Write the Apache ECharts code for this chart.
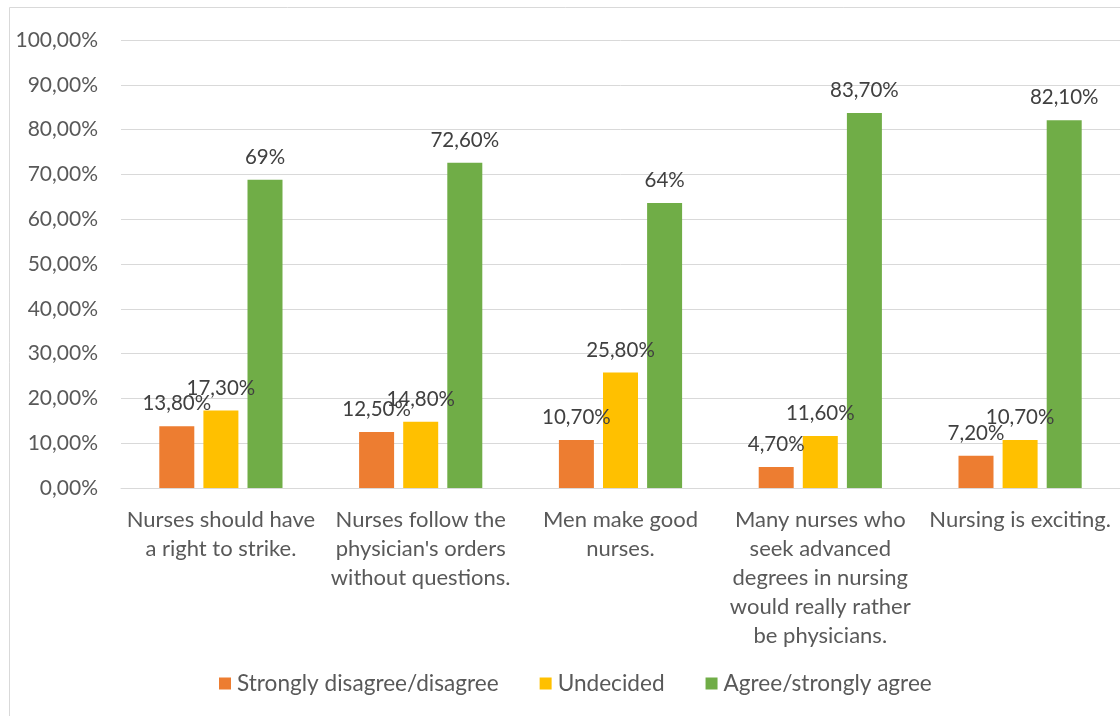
<!DOCTYPE html>
<html>
<head>
<meta charset="utf-8">
<script src="https://cdn.jsdelivr.net/npm/echarts@6/dist/echarts.min.js"></script>
<style>
html,body{margin:0;padding:0;background:#fff;}
#chart{width:1120px;height:716px;}
</style>
</head>
<body>
<div id="chart"></div>
<script>
const categories = [
  "Nurses should have\na right to strike.",
  "Nurses follow the\nphysician's orders\nwithout questions.",
  "Men make good\nnurses.",
  "Many nurses who\nseek advanced\ndegrees in nursing\nwould really rather\nbe physicians.",
  "Nursing is exciting."
];
const seriesNames = ["Strongly disagree/disagree", "Undecided", "Agree/strongly agree"];
const disagreeValues = [13.8, 12.5, 10.7, 4.7, 7.2];
const undecidedValues = [17.3, 14.8, 25.8, 11.6, 10.7];
const agreeValues = [68.8, 72.6, 63.6, 83.7, 82.1];
const disagreeLabels = ["13,80%", "12,50%", "10,70%", "4,70%", "7,20%"];
const undecidedLabels = ["17,30%", "14,80%", "25,80%", "11,60%", "10,70%"];
const agreeLabels = ["69%", "72,60%", "64%", "83,70%", "82,10%"];
const yTicks = [0, 10, 20, 30, 40, 50, 60, 70, 80, 90, 100];
const colors = ["#ED7D31", "#FFC000", "#70AD47"];

const FONT = "Lato";
const chart = echarts.init(document.getElementById('chart'), null, {renderer: 'canvas'});

function mkSeries(i, values, labels) {
  return {
    name: seriesNames[i],
    type: 'bar',
    data: values,
    barWidth: 35,
    barGap: '26%',
    itemStyle: {color: colors[i]},
    label: {
      show: true,
      position: 'top',
      distance: 12,
      color: '#404040',
      fontFamily: FONT,
      fontSize: 20.5,
      formatter: p => labels[p.dataIndex]
    }
  };
}

chart.setOption({
  animation: false,
  backgroundColor: '#ffffff',
  graphic: [{
    type: 'rect',
    shape: {x: 9.5, y: 7.5, width: 1200, height: 800},
    style: {fill: 'none', stroke: '#D9D9D9', lineWidth: 1},
    silent: true,
    z: -1
  }],
  grid: {left: 121, top: 40, width: 1000, height: 448, containLabel: false},
  legend: {
    left: 214,
    top: 667,
    itemWidth: 12,
    itemHeight: 12,
    itemGap: 41,
    icon: 'rect',
    textStyle: {color: '#595959', fontFamily: FONT, fontSize: 22.6, padding: [0, 0, 0, 1]},
    data: seriesNames
  },
  xAxis: {
    type: 'category',
    data: categories,
    axisLine: {lineStyle: {color: '#D9D9D9', width: 1}},
    axisTick: {show: false},
    axisLabel: {
      color: '#595959',
      fontFamily: FONT,
      fontSize: 22,
      lineHeight: 29,
      margin: 17,
      interval: 0
    }
  },
  yAxis: {
    type: 'value',
    min: 0,
    max: 100,
    interval: 10,
    axisLine: {show: false},
    axisTick: {show: false},
    splitLine: {lineStyle: {color: '#D9D9D9', width: 1}},
    axisLabel: {
      color: '#595959',
      fontFamily: FONT,
      fontSize: 21,
      margin: 23,
      formatter: v => yTicks.includes(v) ? v.toFixed(2).replace('.', ',') + '%' : ''
    }
  },
  series: [
    mkSeries(0, disagreeValues, disagreeLabels),
    mkSeries(1, undecidedValues, undecidedLabels),
    mkSeries(2, agreeValues, agreeLabels)
  ]
});
</script>
</body>
</html>
